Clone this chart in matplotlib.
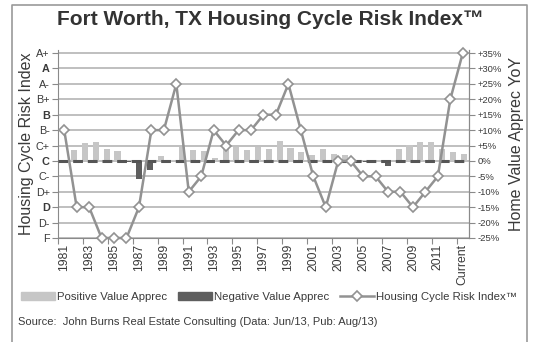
import matplotlib
matplotlib.use("Agg")
import matplotlib.pyplot as plt
from matplotlib.lines import Line2D
from matplotlib.patches import Patch

plt.rcParams['font.family'] = ['Liberation Sans', 'DejaVu Sans']

# categories for the risk index line
years = [str(y) for y in range(1981, 2013)] + ["Current"]
risk_grade = ["B-", "D", "D", "F", "F", "F", "D", "B-", "B-", "A-",
              "D+", "C-", "B-", "C+", "B-", "B-", "B", "B", "A-", "B-",
              "C-", "D", "C", "C", "C-", "C-", "D+", "D+", "D", "D+",
              "C-", "B+", "A+"]

# grade scale (left) and appreciation scale (right) share the same rows
grade_labels = ["F", "D-", "D", "D+", "C-", "C", "C+", "B-", "B", "B+", "A-", "A", "A+"]
pct_ticks = [-25, -20, -15, -10, -5, 0, 5, 10, 15, 20, 25, 30, 35]
pct_labels = ["-25%", "-20%", "-15%", "-10%", "-5%", "0%", "+5%", "+10%",
              "+15%", "+20%", "+25%", "+30%", "+35%"]

# year-over-year home value appreciation (%), own category axis
value_apprec = [0, 3.6, 5.8, 6.1, 3.8, 3.3, -0.5, -6.0, -3.0, 1.7,
                0.3, 4.5, 3.5, 3.3, 1.0, 3.8, 4.5, 3.5, 4.5, 4.0,
                6.4, 4.2, 3.0, 2.0, 4.0, 2.4, 2.0, 0.0, -0.5, 0.0,
                -1.7, 3.8, 5.1, 6.2, 6.3, 4.0, 2.9, 2.1]

POS = "#c6c6c6"
NEG = "#5e5e5e"
LINE = "#929292"
AXC = "#8a8a8a"
TXT = "#3a3a3a"

fig = plt.figure(figsize=(5.33, 3.42), dpi=100)
ax = fig.add_axes([0.1088, 0.3041, 0.7711, 0.5497])

# bars + grid + zero line on the base axes
nb = len(value_apprec)
bx = list(range(nb))
cols = [POS if v >= 0 else NEG for v in value_apprec]
ax.bar(bx, value_apprec, width=0.56, color=cols, zorder=2)
ax.set_xlim(-0.5, nb - 0.5)
ax.set_ylim(-25, 36)
ax.set_yticks(pct_ticks)
for t in pct_ticks:
    ax.axhline(t, color="#adadad", lw=1.1, zorder=1)
ax.axhline(0, color="#555555", lw=2.2, dashes=(3.2, 1.6), zorder=3)
ax.set_xticks([])
ax.set_yticklabels(grade_labels, fontsize=7.8, color=TXT)
for lab, g in zip(ax.get_yticklabels(), grade_labels):
    if len(g) == 1 and g != "F":
        lab.set_fontweight("bold")
ax.tick_params(axis="y", length=4, color=AXC, pad=2)
ax.set_ylabel("Housing Cycle Risk Index", fontsize=11.5, color=TXT, labelpad=1)
ax.spines["top"].set_visible(False)
for s in ("left", "right", "bottom"):
    ax.spines[s].set_color(AXC)
ax.patch.set_visible(False)

# right-hand percent scale
axr = ax.twinx()
axr.set_ylim(ax.get_ylim())
axr.set_yticks(pct_ticks)
axr.set_yticklabels(pct_labels, fontsize=6.8, color=TXT)
axr.tick_params(axis="y", length=4, color=AXC, pad=2)
axr.set_ylabel("Home Value Apprec YoY", fontsize=11.5, color=TXT,
               rotation=90, labelpad=5)
for s in ("top", "left", "bottom"):
    axr.spines[s].set_visible(False)
axr.spines["right"].set_color(AXC)

# risk index line on its own category axis
axl = ax.twiny()
nl = len(years)
lx = list(range(nl))
ly = [pct_ticks[grade_labels.index(g)] for g in risk_grade]
axl.plot(lx, ly, color=LINE, lw=1.8, marker="D", ms=5.2,
         mfc="white", mec=LINE, mew=1.2, zorder=5, clip_on=False)
axl.set_xlim(-0.5, nl - 0.5)
axl.xaxis.set_ticks_position("bottom")
axl.set_xticks([k - 0.5 for k in range(0, nl + 1, 2)])
axl.set_xticklabels([])
axl.set_xticks(lx[::2], minor=True)
axl.set_xticklabels(years[::2], minor=True, rotation=90, fontsize=8.8, color=TXT)
axl.tick_params(axis="x", which="major", length=4, color=AXC, direction="out")
axl.tick_params(axis="x", which="minor", length=0, pad=4)
for s in axl.spines.values():
    s.set_visible(False)

fig.text(0.507, 0.942, "Fort Worth, TX Housing Cycle Risk Index\u2122",
         ha="center", va="center", fontsize=15, fontweight="bold", color="#333333")

handles = [Patch(color=POS), Patch(color=NEG),
           Line2D([], [], color=LINE, lw=1.8, marker="D", ms=5.2,
                  mfc="white", mec=LINE, mew=1.2)]
labels = ["Positive Value Apprec", "Negative Value Apprec",
          "Housing Cycle Risk Index\u2122"]
fig.legend(handles, labels, loc="center", bbox_to_anchor=(0.505, 0.132),
           ncol=3, frameon=False, fontsize=8.2, handlelength=3.0,
           handleheight=0.7, handletextpad=0.2, columnspacing=0.9,
           labelcolor=TXT)

fig.text(0.034, 0.058, "Source:  John Burns Real Estate Consulting (Data: Jun/13, Pub: Aug/13)",
         ha="left", va="center", fontsize=8, color=TXT)

# outer frame
fx0, fx1, fy1 = 12 / 533, 527 / 533, 1 - 5 / 342
fig.add_artist(Line2D([fx0, fx0, fx1, fx1], [0, fy1, fy1, 0],
                      transform=fig.transFigure, color="#9a9a9a", lw=1.2))

fig.savefig("out.png", dpi=100)
